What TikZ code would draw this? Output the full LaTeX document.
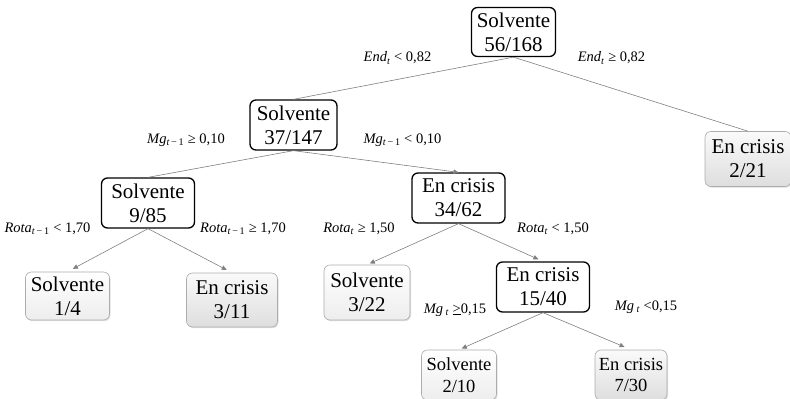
\documentclass[tikz,border=0pt]{standalone}
\usepackage{fontspec}
\setmainfont{Liberation Serif}
\usetikzlibrary{arrows.meta,shadows}
\newcommand{\tsub}{\textsubscript{\textit{t}}}
\newcommand{\tmsub}{\textsubscript{\textit{t}\,−\,1}}
\begin{document}
\begin{tikzpicture}[x=1pt,y=-1pt,
  inner/.style={draw=black,line width=1.3pt,rounded corners=6pt,fill=white,align=center,
    font=\fontsize{21}{24}\selectfont,inner sep=0pt,minimum width=87pt,minimum height=50pt},
  leafbase/.style={draw=gray!65,line width=0.6pt,rounded corners=6pt,align=center,inner sep=0pt,
    drop shadow={opacity=0.25,shadow xshift=1pt,shadow yshift=-1.2pt}},
  leafS/.style={leafbase,top color=white,bottom color=gray!14,font=\fontsize{21}{24}\selectfont},
  leafC/.style={leafbase,top color=gray!4,bottom color=gray!26,font=\fontsize{21}{24}\selectfont},
  small/.style={font=\fontsize{18.5}{21.5}\selectfont},
  edge/.style={draw=gray,line width=0.6pt},
  arr/.style={edge,-{Triangle[length=5pt,width=4.5pt]}},
  lab/.style={font=\fontsize{14.5}{16}\selectfont,inner sep=0pt}]
\useasboundingbox (0,0) rectangle (790,399);

% internal nodes
\node[inner,minimum width=84pt,minimum height=49pt] (root) at (513.5,32) {Solvente\\56/168};
\node[inner] (n37) at (293.5,125) {Solvente\\37/147};
\node[inner,minimum width=93pt] (n9) at (148,203) {Solvente\\9/85};
\node[inner,minimum width=93pt] (n34) at (458.5,198) {En crisis\\34/62};
\node[inner,minimum width=93pt] (n15) at (543,287) {En crisis\\15/40};

% leaves
\node[leafS,minimum width=84pt,minimum height=48pt] (l14) at (67.5,296) {Solvente\\1/4};
\node[leafC,minimum width=91pt,minimum height=54pt] (l311) at (232,300) {En crisis\\3/11};
\node[leafS,minimum width=86pt,minimum height=55pt] (l322) at (367,292.5) {Solvente\\3/22};
\node[leafS,small,minimum width=75pt,minimum height=50pt] (l210) at (459,375) {Solvente\\2/10};
\node[leafC,small,minimum width=72pt,minimum height=50pt] (l730) at (631,375) {En crisis\\7/30};
\node[leafC,minimum width=86pt,minimum height=55pt] (l221) at (748,159) {En crisis\\2/21};

% edges
\draw[edge] (root.south) -- (n37.north);
\draw[edge] (root.south) -- (l221.north);
\draw[edge] (n37.south) -- (n9.north);
\draw[arr] (n37.south) -- (n34.north);
\draw[arr,shorten >=6pt] (n9.south) -- (l14.north);
\draw[arr,shorten >=6pt] (n9.south) -- (l311.north);
\draw[arr,shorten >=3pt] (n34.south) -- (l322.north);
\draw[arr,shorten >=5pt] (n34.south) -- (n15.north);
\draw[arr,shorten >=3pt] (n15.south) -- (l210.north);
\draw[arr,shorten >=7pt] (n15.south) -- (l730.north);

% labels
\node[lab] (e1) at (397.5,58) {\textit{End}\tsub{} {<} 0,82};
\node[lab] (e2) at (611.5,58) {\textit{End}\tsub{} ≥ 0,82};
\node[lab] (m1) at (186,140) {\textit{Mg}\tmsub{} ≥ 0,10};
\node[lab] (m2) at (402.5,140) {\textit{Mg}\tmsub{} {<} 0,10};
\node[lab] (r1) at (47.5,229) {\textit{Rota}\tmsub{} {<} 1,70};
\node[lab] (r2) at (243,229) {\textit{Rota}\tmsub{} ≥ 1,70};
\node[lab] (r3) at (359,229) {\textit{Rota}\tsub{} ≥ 1,50};
\node[lab] (r4) at (553,229) {\textit{Rota}\tsub{} {<} 1,50};
\node[lab] (g1) at (455,310) {\textit{Mg}\,\tsub{} \underline{>}0,15};
\node[lab] (g2) at (646,307) {\textit{Mg}\,\tsub{} {<}0,15};
\end{tikzpicture}
\end{document}
